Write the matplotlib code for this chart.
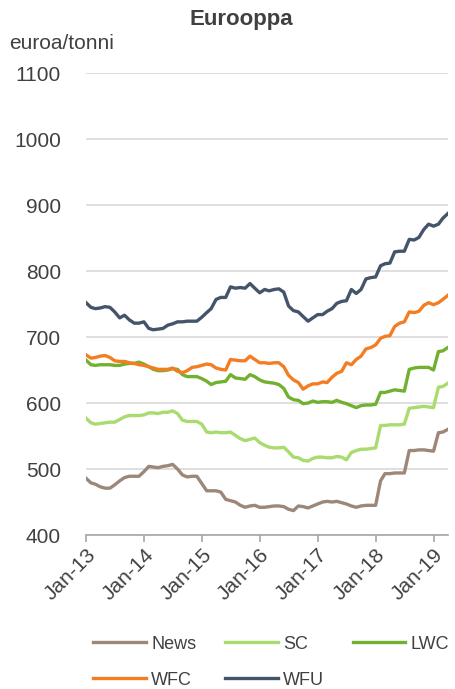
import matplotlib
matplotlib.use('Agg')
from matplotlib import pyplot as plt
import matplotlib.dates as mdates
import pandas as pd

plt.rcParams['font.family'] = ['Liberation Sans', 'DejaVu Sans']

# monthly prices, Jan-13 .. Apr-19 (euroa/tonni)
months = pd.date_range('2013-01-01', periods=76, freq='MS')

news = [486, 479, 477, 473, 471, 471, 476, 482, 487, 489, 489, 489,
        496, 504, 503, 502, 504, 505, 507, 500, 491, 488, 489, 489,
        478, 467, 467, 467, 465, 454, 452, 450, 445, 442, 444, 445,
        442, 442, 443, 444, 444, 443, 439, 437, 444, 443, 441, 444,
        447, 450, 451, 450, 451, 449, 447, 444, 442, 444, 445, 445,
        445, 482, 493, 493, 494, 494, 494, 528, 528, 529, 529, 528,
        527, 555, 556, 560]

sc = [577, 570, 568, 569, 570, 571, 571, 575, 579, 581, 581, 581,
      582, 585, 585, 584, 586, 586, 588, 584, 574, 572, 572, 572,
      568, 556, 555, 556, 555, 555, 556, 551, 546, 543, 545, 547,
      540, 536, 533, 532, 532, 533, 526, 518, 517, 513, 512, 516,
      518, 518, 517, 517, 519, 518, 514, 525, 528, 530, 530, 531,
      532, 566, 566, 567, 567, 567, 568, 592, 593, 594, 595, 594,
      593, 624, 625, 630]

lwc = [665, 658, 657, 658, 658, 658, 657, 657, 659, 660, 660, 662,
       659, 655, 651, 649, 649, 650, 652, 651, 643, 640, 640, 640,
       637, 633, 628, 631, 632, 633, 643, 638, 637, 636, 643, 640,
       635, 632, 631, 630, 628, 622, 609, 605, 604, 599, 600, 603,
       601, 602, 602, 601, 604, 601, 599, 596, 593, 596, 597, 597,
       598, 616, 616, 618, 620, 619, 618, 651, 653, 654, 654, 654,
       650, 678, 679, 684]

wfc = [673, 668, 669, 671, 672, 669, 664, 663, 663, 661, 660, 658,
       657, 655, 653, 651, 651, 651, 653, 648, 646, 649, 654, 655,
       657, 659, 658, 653, 651, 650, 666, 665, 664, 664, 671, 666,
       661, 661, 660, 661, 661, 655, 642, 635, 631, 621, 626, 629,
       629, 632, 631, 639, 645, 648, 661, 658, 666, 671, 682, 684,
       688, 698, 701, 702, 716, 721, 723, 738, 737, 739, 748, 752,
       749, 752, 757, 763]

wfu = [752, 745, 743, 744, 746, 745, 738, 729, 733, 726, 721, 721,
       723, 713, 711, 712, 713, 718, 720, 723, 723, 724, 724, 724,
       730, 737, 743, 757, 760, 760, 776, 774, 775, 774, 781, 774,
       767, 772, 770, 772, 773, 768, 747, 740, 738, 731, 724, 729,
       734, 734, 739, 743, 751, 754, 755, 772, 766, 772, 788, 790,
       791, 808, 811, 812, 829, 830, 830, 848, 847, 851, 863, 871,
       868, 871, 880, 887]

series = [('News', news, '#9C8779'),
          ('SC', sc, '#A9DB6E'),
          ('LWC', lwc, '#72B12F'),
          ('WFC', wfc, '#F47D22'),
          ('WFU', wfu, '#44546A')]

fig = plt.figure(figsize=(4.56, 6.89), dpi=100)
ax = fig.add_axes([0.1886, 0.2235, 0.7934, 0.6705])

lines = {}
for name, vals, col in series:
    lines[name], = ax.plot(months, vals, color=col, lw=2.4, label=name)

ax.set_ylim(400, 1100)
ax.set_yticks(range(400, 1101, 100))
ax.set_xlim(pd.Timestamp('2013-01-01'), pd.Timestamp('2019-04-01'))
ax.xaxis.set_major_locator(mdates.YearLocator())
ax.xaxis.set_major_formatter(mdates.DateFormatter('Jan-%y'))

ax.grid(axis='y', color='#D9D9D9', lw=1.2)
ax.set_axisbelow(True)
for s in ['left', 'right', 'top']:
    ax.spines[s].set_visible(False)
ax.spines['bottom'].set_color('#A6A6A6')
ax.spines['bottom'].set_linewidth(1.2)

ax.tick_params(axis='y', length=0, labelsize=15, labelcolor='#404040', pad=18)
ax.tick_params(axis='x', length=5, width=1.2, color='#A6A6A6',
               labelsize=15, labelcolor='#404040', pad=2)
for lbl in ax.get_xticklabels():
    lbl.set_rotation(45)
    lbl.set_ha('right')
    lbl.set_rotation_mode('anchor')

fig.text(0.53, 0.972, 'Eurooppa', ha='center', va='center',
         fontsize=16, fontweight='bold', color='#404040')
fig.text(0.02, 0.937, 'euroa/tonni', ha='left', va='center',
         fontsize=15, color='#404040')

# legend fills column by column; order so rows read News SC LWC / WFC WFU
order = ['News', 'WFC', 'SC', 'WFU', 'LWC']
fig.legend([lines[n] for n in order], order,
           loc='center', bbox_to_anchor=(0.595, 0.039), ncol=3, frameon=False,
           fontsize=13, handlelength=2.9, handletextpad=0.3,
           columnspacing=1.6, labelspacing=1.05, labelcolor='#404040')

fig.savefig('out.png', dpi=100)
